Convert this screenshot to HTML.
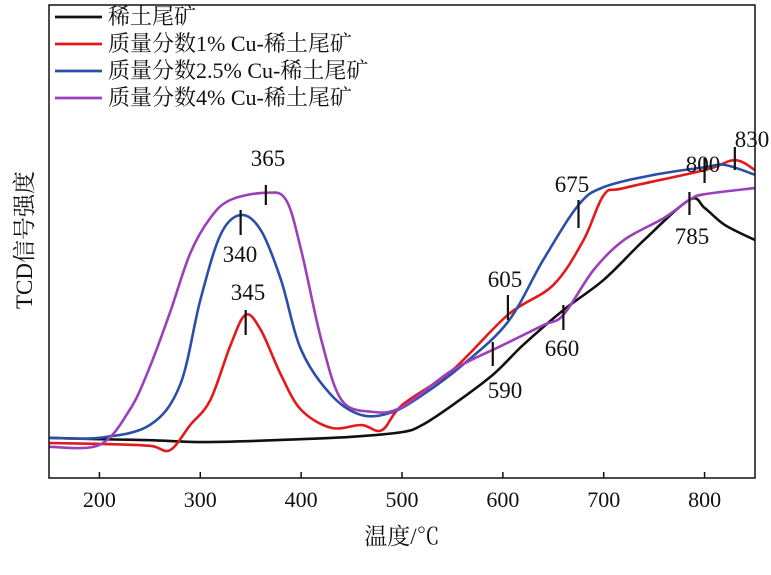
<!DOCTYPE html>
<html><head><meta charset="utf-8"><style>
body{margin:0;background:#fff}
svg{display:block;font-family:"Liberation Serif","Noto Serif CJK SC",serif}
</style></head><body>
<svg id="chart" width="771" height="575" viewBox="0 0 771 575">
<g id="plot"></g>
</svg>
<script>
const categories = ["稀土尾矿","质量分数1% Cu-稀土尾矿","质量分数2.5% Cu-稀土尾矿","质量分数4% Cu-稀土尾矿"];
const colors = ["#111111","#e31a1c","#2b4fa8","#9b40b8"];
const xTicks = [200,300,400,500,600,700,800];
// series: [temperature, signal (arbitrary units 0-100)]
const sBlack = [[150,8.5],[200,8.2],[250,8.0],[300,7.6],[350,7.8],[400,8.2],[450,8.7],[500,9.7],[520,11.2],[550,15.4],[590,21.8],[620,28.1],[660,35.5],[700,41.9],[740,50.3],[785,58.8],[800,57.1],[820,53.5],[850,50.3]];
const sRed = [[150,7.4],[200,7.2],[250,6.8],[270,5.9],[290,11.2],[310,16.5],[330,28.1],[345,34.5],[360,31.3],[380,21.8],[400,14.4],[430,10.6],[460,11.2],[480,10.1],[500,15.4],[550,22.8],[605,34.5],[650,40.8],[680,50.3],[700,59.8],[720,61.3],[800,65.1],[830,67.2],[850,65.1]];
const sBlue = [[150,8.5],[200,8.5],[250,11.2],[280,19.7],[300,37.6],[320,51.4],[340,55.6],[360,52.4],[380,41.9],[400,27.1],[430,17.5],[460,13.3],[490,13.9],[520,17.5],[560,23.9],[605,33.0],[640,46.1],[675,57.7],[700,61.5],[750,64.1],[800,65.7],[820,66.2],[850,64.1]];
const sPurple = [[150,6.6],[200,7.0],[230,14.4],[250,23.5],[270,35.0],[290,47.5],[310,55.0],[330,58.8],[365,60.3],[385,58.8],[400,48.2],[420,29.2],[440,16.5],[470,14.0],[500,15.0],[550,22.8],[600,28.1],[640,32.3],[660,34.5],[690,44.0],[720,50.3],[760,55.0],[785,58.8],[800,60.0],[850,61.3]];
const allSeries = [sBlack,sRed,sBlue,sPurple];
const peakLabels = ["365","340","345","605","590","660","675","785","800","830"];
const peakTemps = [365,340,345,605,590,660,675,785,800,830];

const X0=49,X1=755,Y0=478,Y1=5;
const xs = t => X0 + (t-150)/(850-150)*(X1-X0);
const ys = v => Y0 - v*4.73;
const NS="http://www.w3.org/2000/svg";
const svg=document.getElementById('chart');
function mk(tag,attrs,parent){const e=document.createElementNS(NS,tag);for(const k in attrs)e.setAttribute(k,attrs[k]);(parent||svg).appendChild(e);return e;}
function pathD(pts){
  const p=pts.map(d=>[xs(d[0]),ys(d[1])]);
  let d="M"+p[0][0]+","+p[0][1];
  for(let i=0;i<p.length-1;i++){
    const p0=p[i-1]||p[i],p1=p[i],p2=p[i+1],p3=p[i+2]||p2;
    const c1=[p1[0]+(p2[0]-p0[0])/6,p1[1]+(p2[1]-p0[1])/6];
    const c2=[p2[0]-(p3[0]-p1[0])/6,p2[1]-(p3[1]-p1[1])/6];
    d+=" C"+c1+" "+c2+" "+p2;
  }
  return d;
}
const defs=mk('defs',{});const cp=mk('clipPath',{id:'cp'},defs);mk('rect',{x:X0,y:Y1,width:X1-X0,height:Y0-Y1},cp);
allSeries.forEach((s,i)=>{
  const e=mk('path',{d:pathD(s),fill:'none',stroke:colors[i],'stroke-width':2.6,'clip-path':'url(#cp)'});
  
  
});
const fr=mk('rect',{x:X0,y:Y1,width:X1-X0,height:Y0-Y1,fill:'none',stroke:'#111','stroke-width':1.5});


xTicks.forEach(t=>{
  mk('line',{x1:xs(t),x2:xs(t),y1:Y0,y2:Y0-6,stroke:'#111','stroke-width':1.5});
  const tx=mk('text',{x:xs(t),y:507,'text-anchor':'middle','font-size':22,fill:'#111'});tx.textContent=t;
  
  
});
const xt=mk('text',{x:402,y:544,'text-anchor':'middle','font-size':23,fill:'#111'});xt.textContent="温度/℃";


const yt=mk('text',{x:0,y:0,'text-anchor':'middle','font-size':23,fill:'#111',transform:'translate(32,240) rotate(-90)'});yt.textContent="TCD信号强度";


categories.forEach((c,i)=>{
  const y=17+i*27;
  const l=mk('line',{x1:55,x2:102,y1:y,y2:y,stroke:colors[i],'stroke-width':2.8});
  
  
  const t=mk('text',{x:108,y:y+7,'font-size':22,fill:'#111'});t.textContent=c;
  
  
});
const ann=[[185,205,268,166],[210,235,240,262],[310,335,248,300],[295,320,505,287],[342,366,505,398],[305,330,562,356],[200,228,572,192],[192,215,692,244],[158,183,703,172],[147,170,752,147]];
peakLabels.forEach((lab,i)=>{
  const a=ann[i];const x=xs(peakTemps[i]);
  mk('line',{x1:x,x2:x,y1:a[0],y2:a[1],stroke:'#111','stroke-width':2.2});
  const t=mk('text',{x:a[2],y:a[3],'text-anchor':'middle','font-size':23,fill:'#111'});t.textContent=lab;
  
  
});
</script>
</body></html>
